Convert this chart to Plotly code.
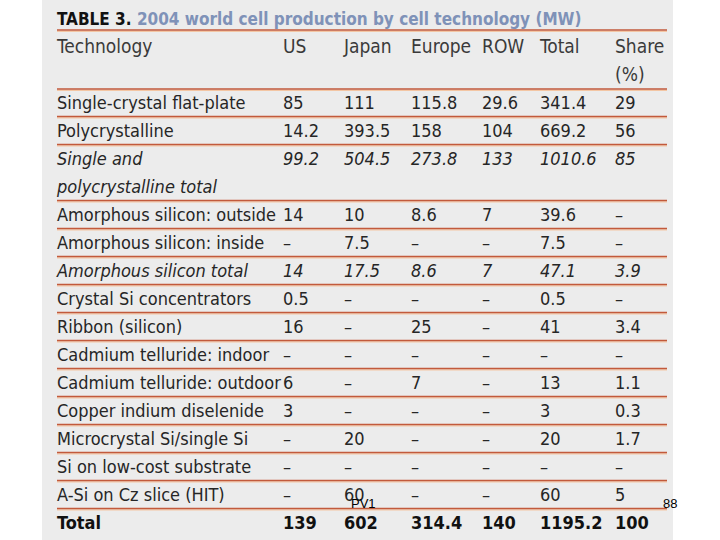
import plotly.graph_objects as go

# ---------------- data ----------------
title_bold = "TABLE 3."
title_text = "2004 world cell production by cell technology (MW)"
columns = ["Technology", "US", "Japan", "Europe", "ROW", "Total", "Share"]
header_second_line = ["", "", "", "", "", "", "(%)"]

technology = [
    "Single-crystal flat-plate",
    "Polycrystalline",
    "Single and<br>polycrystalline total",
    "Amorphous silicon: outside",
    "Amorphous silicon: inside",
    "Amorphous silicon total",
    "Crystal Si concentrators",
    "Ribbon (silicon)",
    "Cadmium telluride: indoor",
    "Cadmium telluride: outdoor",
    "Copper indium diselenide",
    "Microcrystal Si/single Si",
    "Si on low-cost substrate",
    "A-Si on Cz slice (HIT)",
]
us     = [85, 14.2, 99.2, 14, None, 14, 0.5, 16, None, 6, 3, None, None, None]
japan  = [111, 393.5, 504.5, 10, 7.5, 17.5, None, None, None, None, None, 20, None, 60]
europe = [115.8, 158, 273.8, 8.6, None, 8.6, None, 25, None, 7, None, None, None, None]
row    = [29.6, 104, 133, 7, None, 7, None, None, None, None, None, None, None, None]
total  = [341.4, 669.2, 1010.6, 39.6, 7.5, 47.1, 0.5, 41, None, 13, 3, 20, None, 60]
share  = [29, 56, 85, None, None, 3.9, None, 3.4, None, 1.1, 0.3, 1.7, None, 5]
italic_rows = ["Single and<br>polycrystalline total", "Amorphous silicon total"]

total_label = "Total"
total_values = [139, 602, 314.4, 140, 1195.2, 100]

slide_label = "PV1"
page_number = "88"

# ---------------- layout constants ----------------
W, H = 720, 540
pitch = 28.0          # px per text line
first_px = 18.5       # px of line index 0
text_dy = 2.0 / pitch # small downward nudge of text
col_x = [57, 283, 344, 411, 482, 540, 615]
line_x0, line_x1 = 57, 667
bg_x0, bg_x1 = 42, 673
font_family = "Liberation Sans Narrow, DejaVu Sans Condensed, Arial Narrow, sans-serif"
body_color = "#262626"
head_color = "#3a3a3a"
fs = 18


def fmt(v):
    return "–" if v is None else f"{v:g}"


# line index of each data row (row 3 takes two lines)
row_lines = [2 if "<br>" in t else 1 for t in technology]
row_y = []
cur = 3
for n in row_lines:
    row_y.append(cur)
    cur += n
total_y = cur

fig = go.Figure()

# background panel
fig.add_shape(type="rect", xref="x", yref="paper", x0=bg_x0, x1=bg_x1, y0=0, y1=1,
              fillcolor="#ececec", line_width=0, layer="below")

# title
fig.add_trace(go.Scatter(
    x=[col_x[0]], y=[0 + text_dy], mode="text", textposition="middle right",
    text=[f"<b>{title_bold} <span style='color:#7f92b8'>{title_text}</span></b>"],
    textfont=dict(family=font_family, size=17, color="#111111"),
    hoverinfo="skip", showlegend=False))

# header
hx, hy, ht = [], [], []
for c, h2, x in zip(columns, header_second_line, col_x):
    hx.append(x); hy.append(1 + text_dy); ht.append(c)
    if h2:
        hx.append(x); hy.append(2 + text_dy); ht.append(h2)
fig.add_trace(go.Scatter(
    x=hx, y=hy, text=ht, mode="text", textposition="middle right",
    textfont=dict(family=font_family, size=19, color=head_color),
    hoverinfo="skip", showlegend=False))

# body
bx, by, bt = [], [], []
series = [us, japan, europe, row, total, share]
for i, tech in enumerate(technology):
    it = tech in italic_rows
    parts = tech.split("<br>")
    for k, p in enumerate(parts):
        bx.append(col_x[0]); by.append(row_y[i] + k + text_dy)
        bt.append(f"<i>{p}</i>" if it else p)
    for j, s in enumerate(series):
        t = fmt(s[i])
        bx.append(col_x[j + 1]); by.append(row_y[i] + text_dy)
        bt.append(f"<i>{t}</i>" if it else t)
fig.add_trace(go.Scatter(
    x=bx, y=by, text=bt, mode="text", textposition="middle right",
    textfont=dict(family=font_family, size=fs, color=body_color),
    hoverinfo="skip", showlegend=False))

# total row
fig.add_trace(go.Scatter(
    x=col_x, y=[total_y + text_dy] * len(col_x),
    text=[f"<b>{total_label}</b>"] + [f"<b>{fmt(v)}</b>" for v in total_values],
    mode="text", textposition="middle right",
    textfont=dict(family=font_family, size=18, color="#111111"),
    hoverinfo="skip", showlegend=False))

# separator lines
sep_y = [0.41, 2.52] + [row_y[i] + row_lines[i] - 0.5 for i in range(len(technology))]
glow = 1.4 / pitch
for yv in sep_y:
    fig.add_shape(type="line", xref="x", yref="y", x0=line_x0, x1=line_x1, y0=yv + glow, y1=yv + glow,
                  line=dict(color="#f3c6a4", width=1.2))
    fig.add_shape(type="line", xref="x", yref="y", x0=line_x0, x1=line_x1, y0=yv, y1=yv,
                  line=dict(color="#c25a3c", width=1.5))

# slide overlay texts
fig.add_annotation(x=363, y=(503 - first_px) / pitch, xref="x", yref="y", text=slide_label,
                   showarrow=False, font=dict(family="Arial, Liberation Sans", size=13, color="#000000"))
fig.add_annotation(x=670, y=(503 - first_px) / pitch, xref="x", yref="y", text=page_number,
                   showarrow=False, font=dict(family="Arial, Liberation Sans", size=13, color="#000000"))

fig.update_layout(
    width=W, height=H, margin=dict(l=0, r=0, t=0, b=0),
    paper_bgcolor="white", plot_bgcolor="rgba(0,0,0,0)",
    xaxis=dict(range=[0, W], visible=False, fixedrange=True),
    yaxis=dict(range=[(H - first_px) / pitch, -first_px / pitch], visible=False, fixedrange=True),
    showlegend=False,
)

fig.write_html("out.html", config={"displayModeBar": False},
               post_script="document.body.style.margin='0';")
